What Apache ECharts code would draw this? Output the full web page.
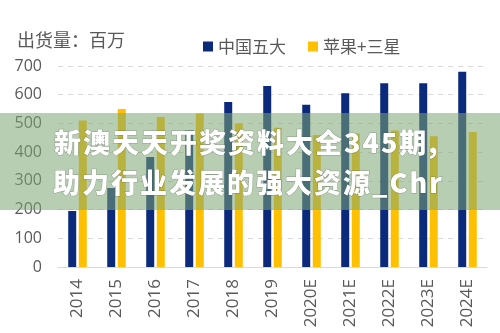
<!DOCTYPE html>
<html>
<head>
<meta charset="utf-8">
<script src="https://cdn.jsdelivr.net/npm/echarts@6/dist/echarts.min.js"></script>
<style>
html,body{margin:0;padding:0;background:#fff;}
#c{width:500px;height:333px;}
</style>
</head>
<body>
<div id="c"></div>
<script>
// Data
var categories = ['2014','2015','2016','2017','2018','2019','2020E','2021E','2022E','2023E','2024E'];
var chinaTop5 = [195, 275, 383, 475, 575, 630, 565, 605, 640, 640, 680];
var appleSamsung = [510, 550, 522, 535, 500, 485, 460, 465, 475, 455, 470];
var seriesNames = ['中国五大', '苹果+三星'];
var unitLabel = '出货量：百万';
var yTicks = [0, 100, 200, 300, 400, 500, 600, 700];
var overlayLines = ['新澳天天开奖资料大全345期,', '助力行业发展的强大资源_Chr'];

var chart = echarts.init(document.getElementById('c'), null, {renderer: 'canvas'});

function spacedText(str, x0, yc, font, spacing) {
  var cv = document.createElement('canvas').getContext('2d');
  cv.font = font;
  var els = [];
  var x = x0;
  for (var i = 0; i < str.length; i++) {
    var ch = str[i];
    els.push({
      type: 'text', x: x, y: yc, z: 101,
      style: {
        text: ch, font: font, fill: '#ffffff',
        verticalAlign: 'middle',
        stroke: 'rgba(60,70,60,0.35)', lineWidth: 1,
        shadowColor: 'rgba(0,0,0,0.45)', shadowBlur: 3, shadowOffsetX: 1, shadowOffsetY: 1
      }
    });
    x += cv.measureText(ch).width + spacing;
  }
  return els;
}

var ovFont = '900 27px "Noto Sans CJK SC"';
var graphics = [
  {
    type: 'text', left: 17, top: 31,
    style: {text: unitLabel, font: '18px "Noto Sans CJK SC"', fill: '#595959'}
  },
  {
    type: 'rect', shape: {x: 0, y: 113, width: 500, height: 97}, z: 100,
    style: {fill: 'rgba(125,165,115,0.55)'}
  }
].concat(spacedText(overlayLines[0], 54, 143, ovFont, 2))
 .concat(spacedText(overlayLines[1], 53, 183, ovFont, 2));

var option = {
  animation: false,
  backgroundColor: '#ffffff',
  legend: {
    data: seriesNames,
    left: 198, top: 33,
    icon: 'rect', itemWidth: 10, itemHeight: 10, itemGap: 22,
    textStyle: {fontSize: 17, color: '#595959', fontFamily: '"Noto Sans CJK SC"'}
  },
  grid: {left: 58, right: 13, top: 66, bottom: 66},
  xAxis: {
    type: 'category', data: categories,
    axisLine: {show: true, lineStyle: {color: '#d9d9d9', width: 1}},
    axisTick: {show: false},
    axisLabel: {rotate: 90, fontSize: 17, color: '#595959', margin: 12, fontFamily: '"Open Sans"'}
  },
  yAxis: {
    type: 'value', min: yTicks[0], max: yTicks[yTicks.length - 1], interval: 100,
    axisLine: {show: false}, axisTick: {show: false},
    splitLine: {lineStyle: {color: '#d9d9d9', type: [5, 5], width: 1}},
    axisLabel: {fontSize: 16, color: '#595959', margin: 16, fontFamily: '"Open Sans"'}
  },
  series: [
    {name: seriesNames[0], type: 'bar', data: chinaTop5, barWidth: 8, barGap: '32%',
     itemStyle: {color: '#0b2a7c'}},
    {name: seriesNames[1], type: 'bar', data: appleSamsung, barWidth: 8,
     itemStyle: {color: '#ffc000'}}
  ],
  graphic: graphics
};
chart.setOption(option);
</script>
</body>
</html>
